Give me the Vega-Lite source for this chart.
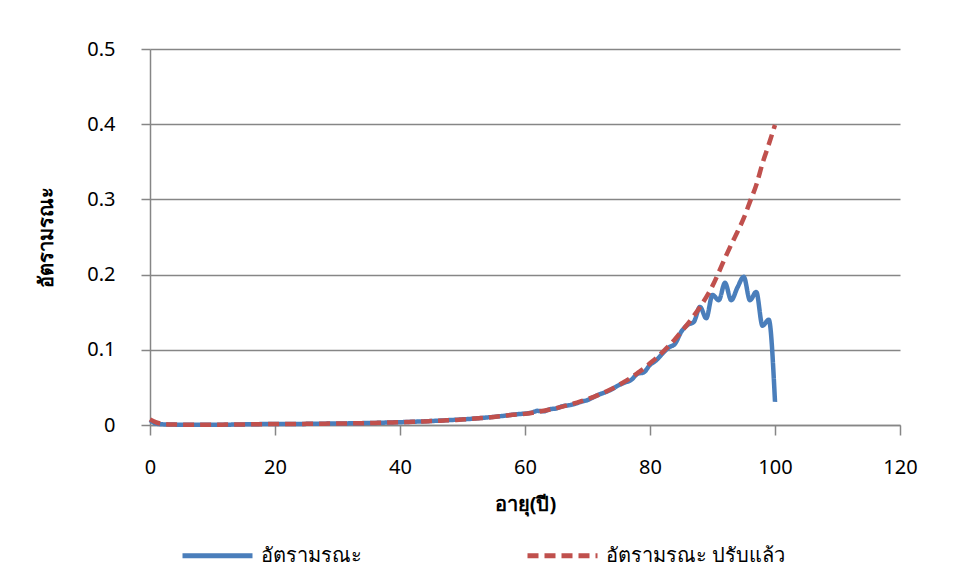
{
  "$schema": "https://vega.github.io/schema/vega-lite/v6.json",
  "width": 750,
  "height": 376,
  "autosize": "none",
  "padding": {"left": 150, "top": 49, "right": 55, "bottom": 156},
  "background": "white",
  "config": {
    "font": "Noto Sans",
    "view": {"stroke": null},
    "axis": {"labelFont": "Noto Sans", "titleFont": "Noto Sans", "labelColor": "#000000", "titleColor": "#000000"}
  },
  "data": {
    "values": [
      {"age": 0, "m": 0.0065, "adj": 0.0075},
      {"age": 1, "m": 0.0018, "adj": 0.0035},
      {"age": 2, "m": 0.0009, "adj": 0.0015},
      {"age": 3, "m": 0.0006, "adj": 0.0008},
      {"age": 4, "m": 0.0005, "adj": 0.0006},
      {"age": 5, "m": 0.0004, "adj": 0.0005},
      {"age": 6, "m": 0.0004, "adj": 0.0004},
      {"age": 7, "m": 0.0003, "adj": 0.0004},
      {"age": 8, "m": 0.0003, "adj": 0.0004},
      {"age": 9, "m": 0.0003, "adj": 0.0004},
      {"age": 10, "m": 0.0003, "adj": 0.0004},
      {"age": 11, "m": 0.0004, "adj": 0.0004},
      {"age": 12, "m": 0.0004, "adj": 0.0005},
      {"age": 13, "m": 0.0005, "adj": 0.0006},
      {"age": 14, "m": 0.0007, "adj": 0.0007},
      {"age": 15, "m": 0.0008, "adj": 0.0008},
      {"age": 16, "m": 0.0010, "adj": 0.0009},
      {"age": 17, "m": 0.0011, "adj": 0.0010},
      {"age": 18, "m": 0.0012, "adj": 0.0011},
      {"age": 19, "m": 0.0012, "adj": 0.0012},
      {"age": 20, "m": 0.0013, "adj": 0.0012},
      {"age": 21, "m": 0.0013, "adj": 0.0013},
      {"age": 22, "m": 0.0013, "adj": 0.0013},
      {"age": 23, "m": 0.0014, "adj": 0.0014},
      {"age": 24, "m": 0.0014, "adj": 0.0014},
      {"age": 25, "m": 0.0015, "adj": 0.0015},
      {"age": 26, "m": 0.0016, "adj": 0.0016},
      {"age": 27, "m": 0.0017, "adj": 0.0017},
      {"age": 28, "m": 0.0018, "adj": 0.0018},
      {"age": 29, "m": 0.0019, "adj": 0.0019},
      {"age": 30, "m": 0.0020, "adj": 0.0020},
      {"age": 31, "m": 0.0021, "adj": 0.0021},
      {"age": 32, "m": 0.0022, "adj": 0.0022},
      {"age": 33, "m": 0.0024, "adj": 0.0023},
      {"age": 34, "m": 0.0025, "adj": 0.0024},
      {"age": 35, "m": 0.0027, "adj": 0.0026},
      {"age": 36, "m": 0.0028, "adj": 0.0028},
      {"age": 37, "m": 0.0030, "adj": 0.0030},
      {"age": 38, "m": 0.0033, "adj": 0.0032},
      {"age": 39, "m": 0.0035, "adj": 0.0034},
      {"age": 40, "m": 0.0037, "adj": 0.0036},
      {"age": 41, "m": 0.0040, "adj": 0.0039},
      {"age": 42, "m": 0.0043, "adj": 0.0042},
      {"age": 43, "m": 0.0046, "adj": 0.0045},
      {"age": 44, "m": 0.0049, "adj": 0.0048},
      {"age": 45, "m": 0.0053, "adj": 0.0052},
      {"age": 46, "m": 0.0057, "adj": 0.0056},
      {"age": 47, "m": 0.0061, "adj": 0.0060},
      {"age": 48, "m": 0.0066, "adj": 0.0064},
      {"age": 49, "m": 0.0070, "adj": 0.0068},
      {"age": 50, "m": 0.0075, "adj": 0.0073},
      {"age": 51, "m": 0.0080, "adj": 0.0079},
      {"age": 52, "m": 0.0087, "adj": 0.0085},
      {"age": 53, "m": 0.0093, "adj": 0.0092},
      {"age": 54, "m": 0.0101, "adj": 0.0099},
      {"age": 55, "m": 0.0108, "adj": 0.0107},
      {"age": 56, "m": 0.0117, "adj": 0.0116},
      {"age": 57, "m": 0.0126, "adj": 0.0125},
      {"age": 58, "m": 0.0137, "adj": 0.0135},
      {"age": 59, "m": 0.0145, "adj": 0.0141},
      {"age": 60, "m": 0.0152, "adj": 0.0148},
      {"age": 61, "m": 0.0163, "adj": 0.0160},
      {"age": 62, "m": 0.0188, "adj": 0.0175},
      {"age": 63, "m": 0.0182, "adj": 0.0190},
      {"age": 64, "m": 0.0210, "adj": 0.0207},
      {"age": 65, "m": 0.0220, "adj": 0.0225},
      {"age": 66, "m": 0.0250, "adj": 0.0245},
      {"age": 67, "m": 0.0262, "adj": 0.0267},
      {"age": 68, "m": 0.0282, "adj": 0.0290},
      {"age": 69, "m": 0.0310, "adj": 0.0317},
      {"age": 70, "m": 0.0332, "adj": 0.0345},
      {"age": 71, "m": 0.0372, "adj": 0.0375},
      {"age": 72, "m": 0.0410, "adj": 0.0410},
      {"age": 73, "m": 0.0440, "adj": 0.0445},
      {"age": 74, "m": 0.0480, "adj": 0.0485},
      {"age": 75, "m": 0.0530, "adj": 0.0530},
      {"age": 76, "m": 0.0565, "adj": 0.0580},
      {"age": 77, "m": 0.0600, "adj": 0.0630},
      {"age": 78, "m": 0.0680, "adj": 0.0690},
      {"age": 79, "m": 0.0700, "adj": 0.0750},
      {"age": 80, "m": 0.0800, "adj": 0.0820},
      {"age": 81, "m": 0.0860, "adj": 0.0890},
      {"age": 82, "m": 0.0950, "adj": 0.0970},
      {"age": 83, "m": 0.1030, "adj": 0.1050},
      {"age": 84, "m": 0.1080, "adj": 0.1140},
      {"age": 85, "m": 0.1240, "adj": 0.1240},
      {"age": 86, "m": 0.1330, "adj": 0.1340},
      {"age": 87, "m": 0.1370, "adj": 0.1450},
      {"age": 88, "m": 0.1570, "adj": 0.1570},
      {"age": 89, "m": 0.1420, "adj": 0.1700},
      {"age": 90, "m": 0.1730, "adj": 0.1850},
      {"age": 91, "m": 0.1660, "adj": 0.2030},
      {"age": 92, "m": 0.1890, "adj": 0.2220},
      {"age": 93, "m": 0.1660, "adj": 0.2400},
      {"age": 94, "m": 0.1830, "adj": 0.2570},
      {"age": 95, "m": 0.1970, "adj": 0.2750},
      {"age": 96, "m": 0.1660, "adj": 0.2970},
      {"age": 97, "m": 0.1770, "adj": 0.3190},
      {"age": 98, "m": 0.1320, "adj": 0.3480},
      {"age": 99, "m": 0.1400, "adj": 0.3730},
      {"age": 100, "m": 0.0310, "adj": 0.3990}
    ]
  },
  "transform": [
    {"fold": ["m", "adj"], "as": ["key", "rate"]}
  ],
  "mark": {"type": "line", "strokeWidth": 4.5, "interpolate": "monotone", "strokeCap": "butt"},
  "encoding": {
    "x": {
      "field": "age", "type": "quantitative",
      "scale": {"domain": [0, 120], "nice": false},
      "axis": {
        "values": [0, 20, 40, 60, 80, 100, 120],
        "title": "อายุ(ปี)", "titleFontSize": 20, "titleFontWeight": "bold", "titlePadding": 17,
        "labelFontSize": 20, "labelPadding": 22, "labelFlush": false,
        "tickSize": 10, "tickColor": "#868686", "domainColor": "#868686", "domainWidth": 1.5, "tickWidth": 1.5,
        "grid": false
      }
    },
    "y": {
      "field": "rate", "type": "quantitative",
      "scale": {"domain": [0, 0.5], "nice": false},
      "axis": {
        "values": [0, 0.1, 0.2, 0.3, 0.4, 0.5],
        "format": ".1~f",
        "title": "อัตรามรณะ", "titleFontSize": 20, "titleFontWeight": "bold", "titlePadding": 30,
        "labelFontSize": 20, "labelPadding": 26, "labelFlush": false,
        "tickSize": 9, "tickColor": "#868686", "domainColor": "#868686", "domainWidth": 1.5, "tickWidth": 1.5,
        "grid": true, "gridColor": "#868686", "gridWidth": 1.5
      }
    },
    "color": {
      "field": "key", "type": "nominal",
      "scale": {"domain": ["m", "adj"], "range": ["#4a7ebb", "#c0504d"]},
      "legend": {
        "orient": "none", "legendX": 30, "legendY": 469, "direction": "horizontal",
        "title": null,
        "labelExpr": "datum.value == 'm' ? 'อัตรามรณะ' : 'อัตรามรณะ ปรับแล้ว'",
        "labelFontSize": 20, "labelColor": "#000000", "labelLimit": 400,
        "symbolType": "stroke", "symbolSize": 4900, "symbolStrokeWidth": 5,
        "labelOffset": 6, "columnPadding": 155
      }
    },
    "strokeDash": {
      "field": "key", "type": "nominal",
      "scale": {"domain": ["m", "adj"], "range": [[1, 0], [11, 6]]},
      "legend": null
    }
  }
}
